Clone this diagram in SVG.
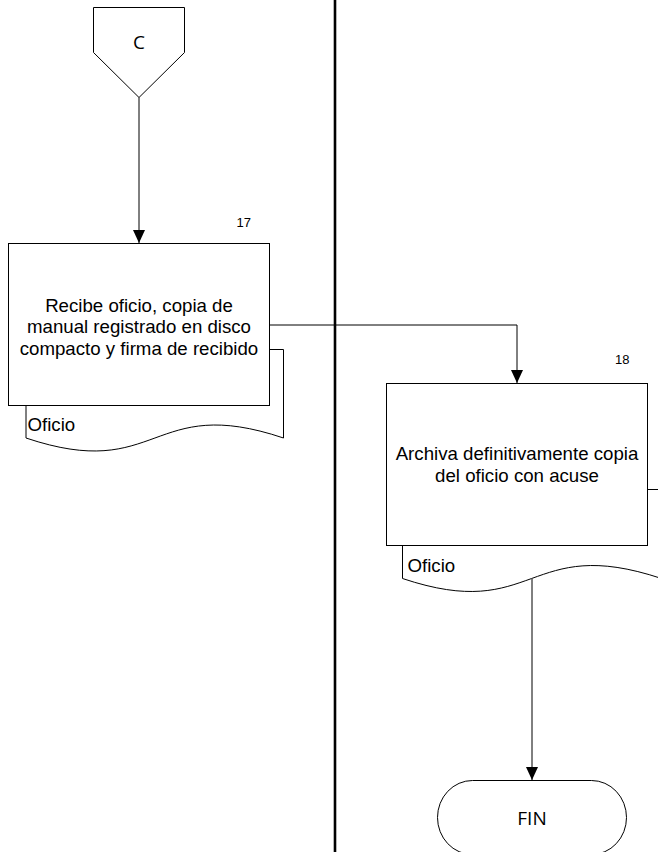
<svg xmlns="http://www.w3.org/2000/svg" width="658" height="852" viewBox="0 0 658 852">
<defs>
<marker id="arr" markerUnits="userSpaceOnUse" markerWidth="14" markerHeight="12" refX="13" refY="6" orient="auto">
<path d="M0,0 L13,6 L0,12 Z" fill="#000"/>
</marker>
<style>
.shape{fill:#fff;stroke:#000;stroke-width:1}
.conn{fill:none;stroke:#000;stroke-width:1}
.lbl{font-family:"Liberation Sans",Arial,sans-serif;font-size:18.67px;fill:#000}
.num{font-family:"Liberation Sans",Arial,sans-serif;font-size:13px;fill:#000;text-anchor:middle}
.term{font-family:"Open Sans","Noto Sans",sans-serif;font-size:19px;fill:#000;text-anchor:middle}
</style>
</defs>
<rect width="658" height="852" fill="#fff"/>
<line x1="335" y1="0" x2="335" y2="852" stroke="#000" stroke-width="2.6"/>
<g id="connectors">
<line class="conn" x1="139" y1="97.5" x2="139" y2="243" marker-end="url(#arr)"/>
<polyline class="conn" points="269.5,325 517,325 517,383" marker-end="url(#arr)"/>
<line class="conn" x1="532" y1="579" x2="532" y2="780" marker-end="url(#arr)"/>
</g>
<g id="connector-C">
<polygon class="shape" points="93.5,7.5 184.5,7.5 184.5,52.5 139,97.5 93.5,52.5"/>
<text class="term" x="139" y="48.5">C</text>
</g>
<g id="step17">
<path class="shape" d="M26,349.5 H283.5 V438 C150,393 160,483 26,438 Z"/>
<rect class="shape" x="8.5" y="243.5" width="261" height="162"/>
<text class="num" x="243.7" y="227.3">17</text>
<text class="lbl" text-anchor="middle" x="139" y="311.7">Recibe oficio, copia de</text>
<text class="lbl" text-anchor="middle" x="139" y="333.3">manual registrado en disco</text>
<text class="lbl" text-anchor="middle" x="139" y="354.9">compacto y firma de recibido</text>
<text class="lbl" x="27.5" y="430.5">Oficio</text>
</g>
<g id="step18">
<path class="shape" d="M402.5,489.5 H661.5 V578.5 C526.5,533.5 536.5,623.5 402.5,578.5 Z"/>
<rect class="shape" x="386.5" y="383.5" width="261" height="162"/>
<text class="num" x="622.3" y="364">18</text>
<text class="lbl" text-anchor="middle" x="517" y="460">Archiva definitivamente copia</text>
<text class="lbl" text-anchor="middle" x="517" y="481.6">del oficio con acuse</text>
<text class="lbl" x="407.5" y="571.5">Oficio</text>
</g>
<g id="fin">
<rect class="shape" x="437.5" y="780.5" width="189" height="74" rx="35" ry="37"/>
<text class="term" x="532" y="825">FIN</text>
</g>
</svg>
